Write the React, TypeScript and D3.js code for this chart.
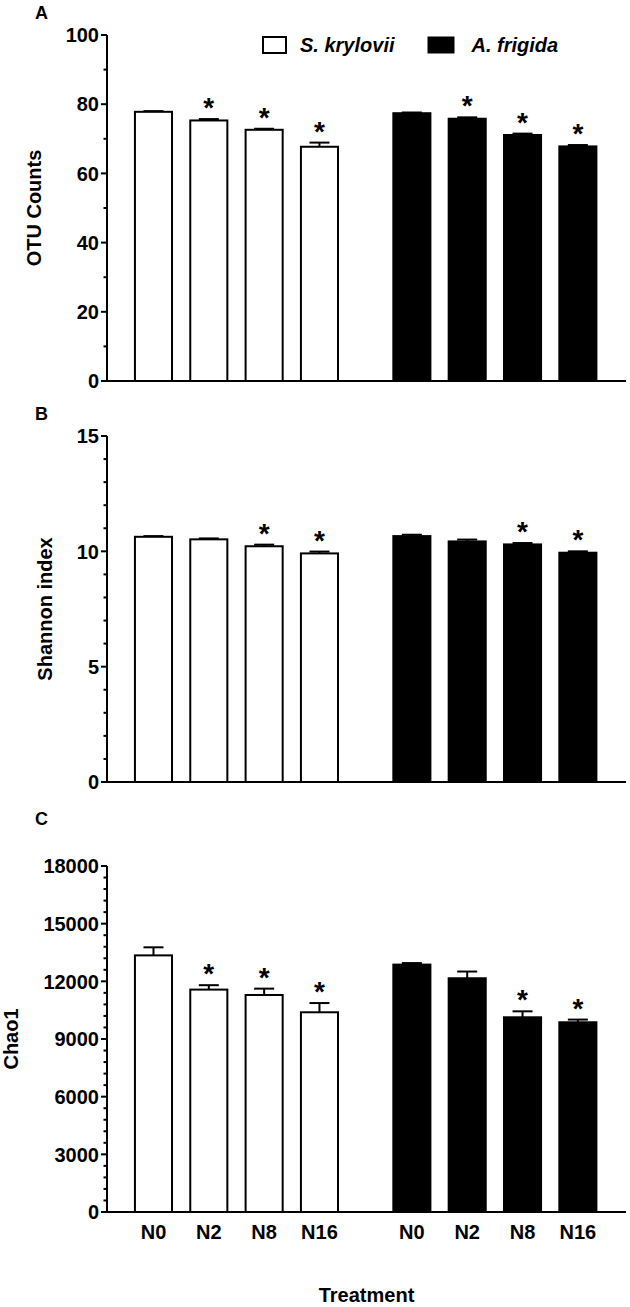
import React from "react";
import * as d3 from "d3";

const categories = ["N0", "N2", "N8", "N16"];
const species = ["S. krylovii", "A. frigida"];

const otuSk = [77.8, 75.3, 72.6, 67.7];
const otuSkErr = [0.2, 0.4, 0.3, 1.2];
const otuAf = [77.4, 75.8, 71.1, 67.8];
const otuAfErr = [0.2, 0.4, 0.4, 0.4];
const otuSkSig = [false, true, true, true];
const otuAfSig = [false, true, true, true];

const shSk = [10.63, 10.52, 10.22, 9.91];
const shSkErr = [0.03, 0.04, 0.07, 0.08];
const shAf = [10.66, 10.43, 10.3, 9.94];
const shAfErr = [0.06, 0.08, 0.06, 0.06];
const shSkSig = [false, false, true, true];
const shAfSig = [false, false, true, true];

const chaoSk = [13350, 11570, 11290, 10390];
const chaoSkErr = [420, 230, 330, 480];
const chaoAf = [12870, 12160, 10130, 9870];
const chaoAfErr = [80, 350, 310, 140];
const chaoSkSig = [false, true, true, true];
const chaoAfSig = [false, false, true, true];

const otuTicks = [0, 20, 40, 60, 80, 100];
const shTicks = [0, 5, 10, 15];
const chaoTicks = [0, 3000, 6000, 9000, 12000, 15000, 18000];

const FONT = "'Liberation Sans', Arial, Helvetica, sans-serif";
const W = 630;
const H = 1307;
const AX_L = 107;
const AX_R = 626;
const GROUP_OFFSET = 4.67;
const BAR_W = 0.67;

const x = d3.scaleLinear().domain([-0.84, 8.54]).range([AX_L, AX_R]);

type Panel = {
  letter: string;
  letterY: number;
  label: string;
  labelX: number;
  range: [number, number];
  max: number;
  ticks: number[];
  minor: number;
  sk: number[];
  skErr: number[];
  skSig: boolean[];
  af: number[];
  afErr: number[];
  afSig: boolean[];
  legend?: boolean;
  xLabels?: boolean;
};

const panels: Panel[] = [
  {
    letter: "A", letterY: 19, label: "OTU Counts", labelX: 41, range: [381, 35], max: 100,
    ticks: otuTicks, minor: 10, sk: otuSk, skErr: otuSkErr, skSig: otuSkSig,
    af: otuAf, afErr: otuAfErr, afSig: otuAfSig, legend: true,
  },
  {
    letter: "B", letterY: 420, label: "Shannon index", labelX: 51.5, range: [782, 436], max: 15,
    ticks: shTicks, minor: 1, sk: shSk, skErr: shSkErr, skSig: shSkSig,
    af: shAf, afErr: shAfErr, afSig: shAfSig,
  },
  {
    letter: "C", letterY: 825, label: "Chao1", labelX: 18, range: [1212, 866], max: 18000,
    ticks: chaoTicks, minor: 600, sk: chaoSk, skErr: chaoSkErr, skSig: chaoSkSig,
    af: chaoAf, afErr: chaoAfErr, afSig: chaoAfSig, xLabels: true,
  },
];

function PanelView({ p }: { p: Panel }) {
  const y = d3.scaleLinear().domain([0, p.max]).range(p.range);
  const minorTicks = d3.range(0, p.max + p.minor / 2, p.minor).filter(
    (v) => !p.ticks.some((t) => Math.abs(t - v) < 1e-9)
  );
  const series = [
    { vals: p.sk, err: p.skErr, sig: p.skSig, fill: "#fff", off: 0 },
    { vals: p.af, err: p.afErr, sig: p.afSig, fill: "#000", off: GROUP_OFFSET },
  ];
  const bw = x(BAR_W) - x(0);
  const capW = 20;
  const midY = (p.range[0] + p.range[1]) / 2;
  return (
    <g>
      <text x={35} y={p.letterY} fontSize={18} fontWeight="bold" fontFamily={FONT}>{p.letter}</text>
      <text
        transform={`translate(${p.labelX},${midY}) rotate(-90)`}
        textAnchor="middle" fontSize={20} fontWeight="bold" fontFamily={FONT}
      >{p.label}</text>
      {series.map((s, si) =>
        s.vals.map((v, i) => {
          const cx = x(i + s.off);
          const top = y(v);
          const capY = y(v + s.err[i]);
          return (
            <g key={`${si}-${i}`}>
              <line x1={cx} x2={cx} y1={top} y2={capY} stroke="#000" strokeWidth={2} />
              <line x1={cx - capW / 2} x2={cx + capW / 2} y1={capY} y2={capY} stroke="#000" strokeWidth={2} />
              <rect x={cx - bw / 2} y={top} width={bw} height={p.range[0] - top}
                fill={s.fill} stroke="#000" strokeWidth={2} />
              {s.sig[i] && (
                <text x={cx} y={capY - 2} textAnchor="middle" fontSize={28} fontWeight="bold" fontFamily={FONT}>*</text>
              )}
            </g>
          );
        })
      )}
      <line x1={AX_L} x2={AX_L} y1={p.range[0] + 1} y2={p.range[1]} stroke="#000" strokeWidth={2} />
      <line x1={AX_L - 1} x2={AX_R} y1={p.range[0]} y2={p.range[0]} stroke="#000" strokeWidth={2} />
      {p.ticks.map((t) => (
        <g key={`t${t}`}>
          <line x1={AX_L - 6} x2={AX_L} y1={y(t)} y2={y(t)} stroke="#000" strokeWidth={2} />
          <text x={AX_L - 8} y={y(t)} dy="0.36em" textAnchor="end" fontSize={20} fontWeight="bold" fontFamily={FONT}>{t}</text>
        </g>
      ))}
      {minorTicks.map((t) => (
        <line key={`m${t}`} x1={AX_L - 3.5} x2={AX_L} y1={y(t)} y2={y(t)} stroke="#000" strokeWidth={2} />
      ))}
      {p.xLabels &&
        series.map((s, si) =>
          categories.map((c, i) => (
            <text key={`x${si}-${i}`} x={x(i + s.off)} y={p.range[0] + 27} textAnchor="middle"
              fontSize={20} fontWeight="bold" fontFamily={FONT}>{c}</text>
          ))
        )}
      {p.legend && (
        <g>
          <rect x={263} y={37} width={23} height={16} fill="#fff" stroke="#000" strokeWidth={2} />
          <text x={300} y={52} fontSize={20} fontWeight="bold" fontStyle="italic" fontFamily={FONT}>{species[0]}</text>
          <rect x={428} y={37} width={26} height={16} fill="#000" stroke="#000" strokeWidth={1} />
          <text x={471.5} y={52} fontSize={20} fontWeight="bold" fontStyle="italic" fontFamily={FONT}>{species[1]}</text>
        </g>
      )}
    </g>
  );
}

export default function App() {
  return (
    <svg width={W} height={H} viewBox={`0 0 ${W} ${H}`}
      style={{ position: "absolute", left: 0, top: 0, background: "#fff", display: "block" }}>
      <rect width={W} height={H} fill="#fff" />
      {panels.map((p) => <PanelView key={p.letter} p={p} />)}
      <text x={(AX_L + AX_R) / 2} y={1302} textAnchor="middle" fontSize={20} fontWeight="bold" fontFamily={FONT}>Treatment</text>
    </svg>
  );
}
